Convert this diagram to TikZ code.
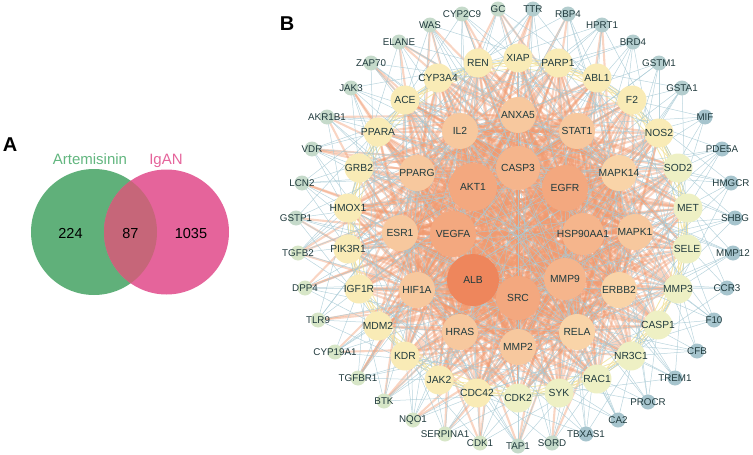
\documentclass[tikz,border=0pt]{standalone}
\usepackage{fontspec}
\setmainfont{Liberation Sans}
\usetikzlibrary{backgrounds}

\definecolor{vgreen}{HTML}{60B07A}
\definecolor{vpink}{HTML}{E5649B}
\definecolor{vmix}{HTML}{C66679}
\definecolor{vgreentxt}{HTML}{62B67F}
\definecolor{outA}{HTML}{A6C4CD}
\definecolor{outB}{HTML}{B3CDCE}
\definecolor{outC}{HTML}{C5DACA}
\definecolor{outD}{HTML}{D7E6C7}
\definecolor{midY}{HTML}{F9EBB6}
\definecolor{midG}{HTML}{EEF0C4}
\definecolor{innO}{HTML}{F7C89E}
\definecolor{innP}{HTML}{F9D4A8}
\definecolor{hubO}{HTML}{F3A87F}
\definecolor{hubP}{HTML}{F5B58C}
\definecolor{albO}{HTML}{EE865C}
\definecolor{edgeO}{HTML}{F09A70}
\definecolor{edgeB}{HTML}{A8CAD5}
\definecolor{edgeY}{HTML}{F2E3A0}
\definecolor{gtext}{HTML}{203A3D}

\newcommand\genefont{\fontsize{10.3}{11}\selectfont}
\newcommand\outerfont{\fontsize{9.8}{10}\selectfont}
\newcommand\hubgenes{ALB,AKT1,CASP3,EGFR,HSP90AA1,MMP9,SRC,VEGFA,IL2,ANXA5,STAT1,MAPK14,MAPK1,ERBB2,RELA,MMP2,HRAS,HIF1A,ESR1,PPARG}
\newcommand\midgenes{CYP3A4,REN,XIAP,PARP1,ABL1,F2,NOS2,SOD2,MET,SELE,MMP3,CASP1,NR3C1,RAC1,SYK,CDK2,CDC42,JAK2,KDR,MDM2,IGF1R,PIK3R1,HMOX1,GRB2,PPARA,ACE}
\newcommand\outergenes{CYP2C9,GC,TTR,RBP4,HPRT1,BRD4,GSTM1,GSTA1,MIF,PDE5A,HMGCR,SHBG,MMP12,CCR3,F10,CFB,TREM1,PROCR,CA2,TBXAS1,SORD,TAP1,CDK1,SERPINA1,NQO1,BTK,TGFBR1,CYP19A1,TLR9,DPP4,TGFB2,GSTP1,LCN2,VDR,AKR1B1,JAK3,ZAP70,ELANE,WAS}

\begin{document}
\begin{tikzpicture}[x=1pt, y=-1pt,
  txt/.style={text=gtext, inner sep=0},
  outernode/.style 2 args={circle, inner sep=0, minimum size=15, fill=#1, label={[txt, font=\outerfont]center:#2}},
  midnode/.style 2 args={circle, inner sep=0, minimum size=29, fill=#1, label={[txt, font=\genefont]center:#2}},
  innernode/.style 2 args={circle, inner sep=0, minimum size=36, fill=#1, label={[txt, font=\genefont]center:#2}},
  hubnode/.style 2 args={circle, inner sep=0, minimum size=46, fill=#1, label={[txt, font=\genefont]center:#2}},
  hubedge/.style={line width=3.2, draw=edgeO, draw opacity=0.5},
  midedge/.style={line width=2.1, draw=edgeO, draw opacity=0.42},
  thinedge/.style={line width=0.5, draw=edgeB, draw opacity=0.8},
  yeledge/.style={line width=0.9, draw=edgeY, draw opacity=0.85}]
\useasboundingbox (0,0) rectangle (753,455);

% Panel A: Venn
\node[font=\fontsize{20}{22}\selectfont\bfseries] (labA) at (10,145) {A};
\fill[vgreen] (94,232) circle (63);
\fill[vpink] (166.5,232) circle (62.5);
\begin{scope}
  \clip (94,232) circle (63);
  \fill[vmix] (166.5,232) circle (62.5);
\end{scope}
\node[anchor=base, text=vgreentxt, font=\fontsize{15}{17}\selectfont] (setA) at (90,164) {Artemisinin};
\node[anchor=base, text=vpink, font=\fontsize{15}{17}\selectfont] (setB) at (166,164) {IgAN};
\node[anchor=base, font=\fontsize{14.5}{16}\selectfont] (onlyA) at (70.5,238) {224};
\node[anchor=base, font=\fontsize{14.5}{16}\selectfont] (both) at (130.5,238) {87};
\node[anchor=base, font=\fontsize{14.5}{16}\selectfont] (onlyB) at (191,238) {1035};

% Panel B: network
\node[font=\fontsize{20}{22}\selectfont\bfseries] (labB) at (287,24) {B};

% Outer ring
\node[outernode={outC}{CYP2C9}] (CYP2C9) at (462,14) {};
\node[outernode={outC}{GC}] (GC) at (498,9) {};
\node[outernode={outB}{TTR}] (TTR) at (533,9) {};
\node[outernode={outB}{RBP4}] (RBP4) at (568,14) {};
\node[outernode={outB}{HPRT1}] (HPRT1) at (602,25) {};
\node[outernode={outB}{BRD4}] (BRD4) at (633,42) {};
\node[outernode={outB}{GSTM1}] (GSTM1) at (659,63) {};
\node[outernode={outB}{GSTA1}] (GSTA1) at (682,88) {};
\node[outernode={outA}{MIF}] (MIF) at (705,117) {};
\node[outernode={outA}{PDE5A}] (PDE5A) at (722,149) {};
\node[outernode={outA}{HMGCR}] (HMGCR) at (731,183) {};
\node[outernode={outA}{SHBG}] (SHBG) at (735,218) {};
\node[outernode={outA}{MMP12}] (MMP12) at (733,253) {};
\node[outernode={outA}{CCR3}] (CCR3) at (727,288) {};
\node[outernode={outA}{F10}] (F10) at (714,320) {};
\node[outernode={outA}{CFB}] (CFB) at (697,351) {};
\node[outernode={outA}{TREM1}] (TREM1) at (675,378) {};
\node[outernode={outA}{PROCR}] (PROCR) at (648,402) {};
\node[outernode={outA}{CA2}] (CA2) at (618,420) {};
\node[outernode={outA}{TBXAS1}] (TBXAS1) at (586,434) {};
\node[outernode={outC}{SORD}] (SORD) at (552,443) {};
\node[outernode={outC}{TAP1}] (TAP1) at (518,446) {};
\node[outernode={outD}{CDK1}] (CDK1) at (480,443) {};
\node[outernode={outD}{SERPINA1}] (SERPINA1) at (445,434) {};
\node[outernode={outD}{NQO1}] (NQO1) at (413,420) {};
\node[outernode={outD}{BTK}] (BTK) at (384,401) {};
\node[outernode={outD}{TGFBR1}] (TGFBR1) at (358,378) {};
\node[outernode={outD}{CYP19A1}] (CYP19A1) at (335,352) {};
\node[outernode={outD}{TLR9}] (TLR9) at (318,320) {};
\node[outernode={outD}{DPP4}] (DPP4) at (305,288) {};
\node[outernode={outD}{TGFB2}] (TGFB2) at (298,253) {};
\node[outernode={outC}{GSTP1}] (GSTP1) at (296,218) {};
\node[outernode={outC}{LCN2}] (LCN2) at (302,183) {};
\node[outernode={outC}{VDR}] (VDR) at (312,149) {};
\node[outernode={outC}{AKR1B1}] (AKR1B1) at (327,117) {};
\node[outernode={outC}{JAK3}] (JAK3) at (351,88) {};
\node[outernode={outC}{ZAP70}] (ZAP70) at (371,63) {};
\node[outernode={outC}{ELANE}] (ELANE) at (399,42) {};
\node[outernode={outC}{WAS}] (WAS) at (430,25) {};

% Middle ring
\node[midnode={midY}{CYP3A4}] (CYP3A4) at (438,78) {};
\node[midnode={midY}{REN}] (REN) at (478,63) {};
\node[midnode={midY}{XIAP}] (XIAP) at (518,58) {};
\node[midnode={midY}{PARP1}] (PARP1) at (558,63) {};
\node[midnode={midY}{ABL1}] (ABL1) at (597,78) {};
\node[midnode={midY}{F2}] (F2) at (632,100) {};
\node[midnode={midY}{NOS2}] (NOS2) at (659,133) {};
\node[midnode={midG}{SOD2}] (SOD2) at (678,168) {};
\node[midnode={midG}{MET}] (MET) at (688,208) {};
\node[midnode={midG}{SELE}] (SELE) at (687,249) {};
\node[midnode={midG}{MMP3}] (MMP3) at (678,289) {};
\node[midnode={midG}{CASP1}] (CASP1) at (658,325) {};
\node[midnode={midG}{NR3C1}] (NR3C1) at (631,356) {};
\node[midnode={midG}{RAC1}] (RAC1) at (597,379) {};
\node[midnode={midG}{SYK}] (SYK) at (559,393) {};
\node[midnode={midG}{CDK2}] (CDK2) at (518,398) {};
\node[midnode={midY}{CDC42}] (CDC42) at (477,393) {};
\node[midnode={midY}{JAK2}] (JAK2) at (439,380) {};
\node[midnode={midY}{KDR}] (KDR) at (405,356) {};
\node[midnode={midY}{MDM2}] (MDM2) at (378,326) {};
\node[midnode={midY}{IGF1R}] (IGF1R) at (359,289) {};
\node[midnode={midY}{PIK3R1}] (PIK3R1) at (348,249) {};
\node[midnode={midY}{HMOX1}] (HMOX1) at (348,208) {};
\node[midnode={midY}{GRB2}] (GRB2) at (359,168) {};
\node[midnode={midY}{PPARA}] (PPARA) at (378,132) {};
\node[midnode={midY}{ACE}] (ACE) at (405,100) {};

% Inner ring
\node[innernode={innO}{IL2}] (IL2) at (460,131) {};
\node[innernode={innO}{ANXA5}] (ANXA5) at (518,115) {};
\node[innernode={innO}{STAT1}] (STAT1) at (577,131) {};
\node[innernode={innP}{MAPK14}] (MAPK14) at (619,173) {};
\node[innernode={innO}{MAPK1}] (MAPK1) at (635,232) {};
\node[innernode={innP}{ERBB2}] (ERBB2) at (619,290) {};
\node[innernode={innP}{RELA}] (RELA) at (577,332) {};
\node[innernode={innO}{MMP2}] (MMP2) at (518,347) {};
\node[innernode={innO}{HRAS}] (HRAS) at (460,332) {};
\node[innernode={innO}{HIF1A}] (HIF1A) at (417,290) {};
\node[innernode={innO}{ESR1}] (ESR1) at (400,233) {};
\node[innernode={innO}{PPARG}] (PPARG) at (417,173) {};

% Core
\node[hubnode={hubO}{AKT1}, minimum size=48] (AKT1) at (473,187) {};
\node[hubnode={hubP}{CASP3}, minimum size=44] (CASP3) at (518,168) {};
\node[hubnode={hubO}{EGFR}] (EGFR) at (565,188) {};
\node[hubnode={hubP}{HSP90AA1}, minimum size=42] (HSP90AA1) at (583,234) {};
\node[hubnode={hubP}{MMP9}, minimum size=42] (MMP9) at (565,279) {};
\node[hubnode={hubO}{SRC}, minimum size=44] (SRC) at (518,298) {};
\node[hubnode={hubO}{VEGFA}] (VEGFA) at (453,234) {};
\node[hubnode={albO}{ALB}, minimum size=52] (ALB) at (473,280) {};

% Links
\begin{scope}[on background layer]
\foreach \a [count=\i] in \hubgenes {
  \foreach \b [count=\j] in \hubgenes {
    \ifnum\j>\i \draw[hubedge] (\a.center) -- (\b.center); \fi
  }
}
\foreach \a [count=\i] in \midgenes {
  \foreach \b [count=\j] in \hubgenes {
    \pgfmathtruncatemacro\k{mod(\i*3+\j*5,4)}
    \ifnum\k>0 \draw[midedge] (\a.center) -- (\b.center); \fi
  }
}
\foreach \a [count=\i] in \outergenes {
  \pgfmathtruncatemacro\w{(\i<6)||(\i>20)}
  \foreach \b [count=\j] in \hubgenes {
    \pgfmathtruncatemacro\k{mod(\i*2+\j*5,8)}
    \ifnum\k=0 \ifnum\w=1 \draw[midedge] (\a.center) -- (\b.center); \fi \fi
  }
}
\foreach \a [count=\i] in \midgenes {
  \foreach \b [count=\j] in \midgenes {
    \pgfmathtruncatemacro\d{\j-\i}
    \ifnum\d>0 \ifnum\d<4 \draw[yeledge] (\a.center) -- (\b.center); \fi \fi
    \ifnum\d>22 \draw[yeledge] (\a.center) -- (\b.center); \fi
  }
}
\foreach \a [count=\i] in \outergenes {
  \foreach \b [count=\j] in \midgenes {
    \pgfmathtruncatemacro\k{mod(\i*5+\j*3,7)}
    \ifnum\k=0 \draw[thinedge] (\a.center) -- (\b.center); \fi
  }
  \foreach \b [count=\j] in \hubgenes {
    \pgfmathtruncatemacro\k{mod(\i*3+\j*7,6)}
    \ifnum\k=0 \draw[thinedge] (\a.center) -- (\b.center); \fi
  }
}
\end{scope}

\end{tikzpicture}
\end{document}
